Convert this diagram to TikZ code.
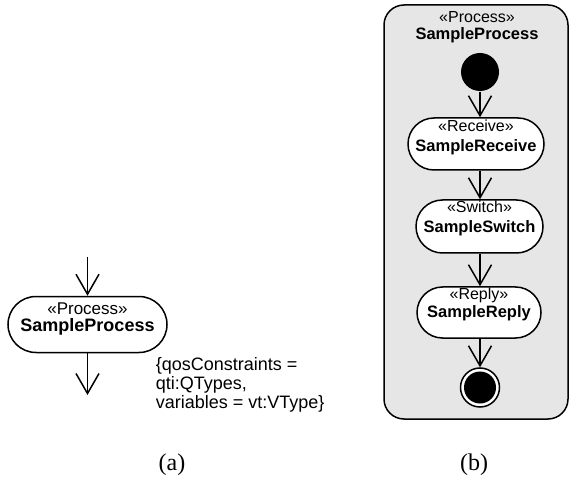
\documentclass[tikz,border=0pt]{standalone}
\usepackage{fontspec}
\setmainfont{Liberation Serif}
\newfontfamily\uifont{Liberation Sans}
\usetikzlibrary{arrows.meta,shapes.misc}
\definecolor{panelgray}{HTML}{E6E6E6}

\begin{document}
\begin{tikzpicture}[x=1pt,y=-1pt,
  line width=1.5pt,
  activity/.style={rounded rectangle, draw=black, fill=white, line width=1.5pt,
    inner sep=0pt},
  flow/.style={draw=black, line width=1.5pt,
    -{Straight Barb[length=20pt,width=23pt,line width=1.5pt]}},
  stereoA/.style={font=\uifont\fontsize{17}{20}\selectfont, anchor=base, inner sep=0pt},
  nameA/.style={font=\uifont\bfseries\fontsize{18}{20}\selectfont, anchor=base, inner sep=0pt},
  stereoB/.style={font=\uifont\fontsize{16}{18}\selectfont, anchor=base, inner sep=0pt},
  nameB/.style={font=\uifont\bfseries\fontsize{16.5}{18}\selectfont, anchor=base, inner sep=0pt},
  notetext/.style={font=\uifont\fontsize{18}{19}\selectfont, anchor=base west, inner sep=0pt},
  caption/.style={font=\fontsize{24}{26}\selectfont, anchor=base, inner sep=0pt}
]
\useasboundingbox (0,0) rectangle (570,486);

% ---------- (a) single process action ----------
\node[activity, minimum width=159pt, minimum height=56pt] (proc) at (87.5,324.5) {};
\node[stereoA] (procst) at (87.5,314) {«Process»};
\node[nameA] (procnm) at (87.5,331) {SampleProcess};
\coordinate (inflow) at (87.5,257);
\coordinate (outflow) at (87.5,395);
\draw[flow] (inflow) -- (proc.north);
\draw[flow] (proc.south) -- (outflow);

\node[notetext] (note1) at (155,370) {\{qosConstraints =};
\node[notetext] (note2) at (155,389) {qti:QTypes,};
\node[notetext] (note3) at (155,408) {variables = vt:VType\}};

\node[caption] (capa) at (172,470) {(a)};

% ---------- (b) process with its inner flow ----------
\filldraw[fill=panelgray, draw=black, line width=1.5pt, rounded corners=20pt]
  (384,5) rectangle (568,419);
\node[stereoB] (bst) at (477,23) {«Process»};
\node[nameB] (bnm) at (477,40) {SampleProcess};

\node[circle, fill=black, minimum size=38pt, inner sep=0pt] (init) at (480,72) {};

\node[activity, minimum width=136pt, minimum height=52pt] (recv) at (476,144) {};
\node[stereoB] (recvst) at (476,131.5) {«Receive»};
\node[nameB] (recvnm) at (476,151.5) {SampleReceive};

\node[activity, minimum width=127pt, minimum height=53pt] (swch) at (479.5,226.5) {};
\node[stereoB] (swchst) at (479.5,213) {«Switch»};
\node[nameB] (swchnm) at (479.5,232.5) {SampleSwitch};

\node[activity, minimum width=124pt, minimum height=51pt] (rply) at (479,312.5) {};
\node[stereoB] (rplyst) at (479,299) {«Reply»};
\node[nameB] (rplynm) at (479,317) {SampleReply};

\node[circle, draw=black, fill=white, line width=1.5pt, minimum size=39pt,
  inner sep=0pt] (final) at (480,387.5) {};
\node[circle, fill=black, minimum size=32pt, inner sep=0pt] (finaldot) at (final) {};

\draw[flow] (init) -- (init |- recv.north);
\draw[flow] (init |- recv.south) -- (init |- swch.north);
\draw[flow] (init |- swch.south) -- (init |- rply.north);
\draw[flow] (init |- rply.south) -- (final.north);

\node[caption] (capb) at (474,470) {(b)};
\end{tikzpicture}
\end{document}
